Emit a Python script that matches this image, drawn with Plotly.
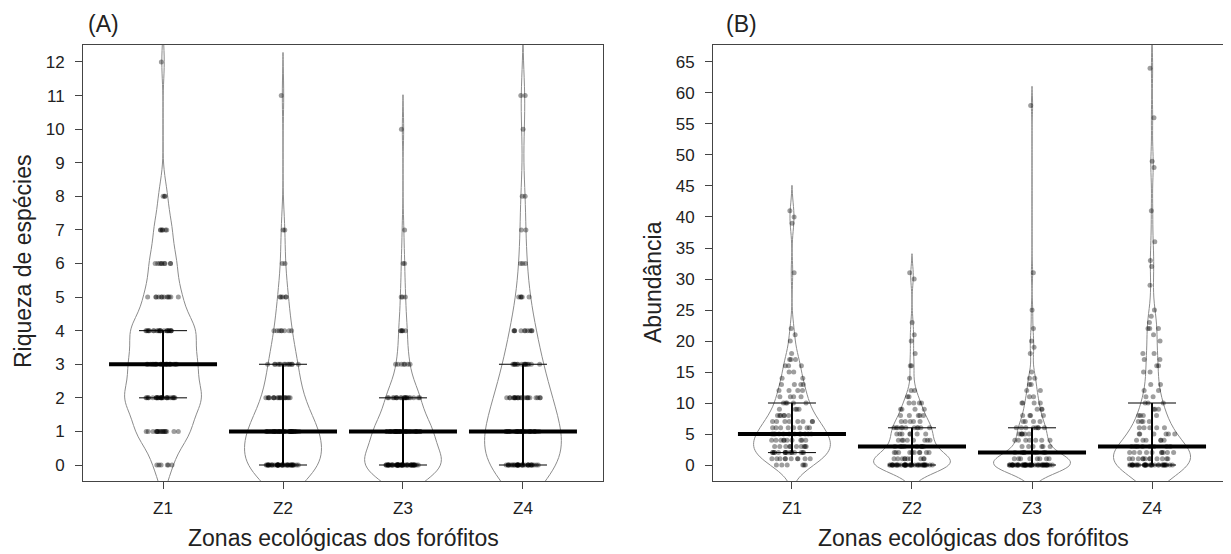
import numpy as np
import plotly.graph_objects as go

zones = ["Z1", "Z2", "Z3", "Z4"]

# Panel A: species richness (value -> number of phorophytes)
riq_values_z1 = [0, 1, 2, 3, 4, 5, 6, 7, 8, 12]
riq_counts_z1 = [6, 18, 26, 22, 22, 12, 9, 6, 3, 1]
riq_values_z2 = [0, 1, 2, 3, 4, 5, 6, 7, 11]
riq_counts_z2 = [40, 35, 18, 14, 8, 5, 2, 2, 1]
riq_values_z3 = [0, 1, 2, 3, 4, 5, 6, 7, 10]
riq_counts_z3 = [51, 35, 20, 7, 5, 3, 2, 1, 1]
riq_values_z4 = [0, 1, 2, 3, 4, 5, 6, 7, 8, 10, 11]
riq_counts_z4 = [33, 30, 22, 15, 10, 5, 3, 2, 2, 1, 2]

# Panel B: abundance
abu_values_z1 = [0, 1, 2, 3, 4, 5, 6, 7, 8, 9, 10, 11, 12, 13, 14, 15, 16, 17, 18, 20, 21, 22, 31, 39, 40, 41]
abu_counts_z1 = [6, 10, 16, 10, 10, 12, 8, 8, 6, 4, 5, 4, 4, 4, 2, 2, 3, 3, 1, 1, 1, 1, 1, 1, 1, 1]
abu_values_z2 = [0, 1, 2, 3, 4, 5, 6, 7, 8, 9, 10, 11, 12, 14, 16, 18, 20, 21, 23, 30, 31]
abu_counts_z2 = [40, 10, 10, 8, 8, 7, 11, 5, 5, 4, 4, 2, 2, 1, 2, 1, 1, 1, 1, 1, 1]
abu_values_z3 = [0, 1, 2, 3, 4, 5, 6, 7, 8, 9, 10, 11, 12, 13, 14, 15, 18, 19, 20, 22, 25, 31, 58]
abu_counts_z3 = [51, 8, 8, 6, 7, 6, 8, 4, 4, 3, 4, 2, 2, 2, 2, 1, 1, 1, 1, 1, 1, 1, 1]
abu_values_z4 = [0, 1, 2, 3, 4, 5, 6, 7, 8, 9, 10, 11, 12, 13, 15, 16, 17, 18, 20, 21, 22, 23, 24, 25, 29, 32, 33, 36, 41, 48, 49, 56, 64]
abu_counts_z4 = [33, 12, 10, 8, 6, 6, 5, 4, 4, 3, 3, 2, 2, 2, 2, 2, 2, 2, 1, 1, 3, 1, 1, 1, 1, 1, 1, 1, 1, 1, 1, 1, 1]

riq_ticks = list(range(0, 13))
abu_ticks = list(range(0, 70, 5))

# page is 1231x554; the browser body has an 8px margin, so the figure is 8px smaller
OFF = 8
W, H = 1231 - OFF, 554 - OFF
FONT = "Liberation Sans, Arial, sans-serif"


def px(x):  # screen x -> paper
    return (x - OFF) / W


def py(y):  # screen y -> paper
    return (H - (y - OFF)) / H


def nrd0(y):
    y = np.asarray(y, float)
    q1, q3 = np.percentile(y, [25, 75])
    s = min(np.std(y, ddof=1), (q3 - q1) / 1.34)
    return 0.9 * s * len(y) ** (-0.2)


fig = go.Figure()


def add_panel(vals_list, cnts_list, xa, ya, jitter, tag):
    for i, (vals, cnts) in enumerate(zip(vals_list, cnts_list)):
        y = np.repeat(np.array(vals, float), cnts)
        pos = i + 1
        fig.add_trace(go.Violin(
            x=np.full(len(y), pos), y=y, orientation="v",
            width=0.64, bandwidth=nrd0(y), spanmode="soft",
            points="all", pointpos=0, jitter=jitter,
            fillcolor="white", line=dict(color="#8c8c8c", width=1),
            marker=dict(color="rgba(0,0,0,0.38)", size=5, line=dict(width=0)),
            name=tag + zones[i], showlegend=False, hoverinfo="y",
            xaxis=xa, yaxis=ya,
        ))
        med = np.median(y)
        q1, q3 = np.percentile(y, [25, 75])
        fig.add_trace(go.Scatter(
            x=[pos - 0.2, pos + 0.2, None, pos - 0.2, pos + 0.2],
            y=[q1, q1, None, q3, q3], mode="lines",
            line=dict(color="black", width=1), showlegend=False,
            hoverinfo="skip", xaxis=xa, yaxis=ya))
        fig.add_trace(go.Scatter(
            x=[pos, pos], y=[q1, q3], mode="lines",
            line=dict(color="black", width=2), showlegend=False,
            hoverinfo="skip", xaxis=xa, yaxis=ya))
        fig.add_trace(go.Scatter(
            x=[pos - 0.45, pos + 0.45], y=[med, med], mode="lines",
            line=dict(color="black", width=4), showlegend=False,
            hoverinfo="skip", xaxis=xa, yaxis=ya))


add_panel([riq_values_z1, riq_values_z2, riq_values_z3, riq_values_z4],
          [riq_counts_z1, riq_counts_z2, riq_counts_z3, riq_counts_z4],
          "x", "y", 0.45, "A")
add_panel([abu_values_z1, abu_values_z2, abu_values_z3, abu_values_z4],
          [abu_counts_z1, abu_counts_z2, abu_counts_z3, abu_counts_z4],
          "x2", "y2", 0.6, "B")

ydom = [py(481), py(45)]
tickfont = dict(family=FONT, size=17, color="#222")
xcommon = dict(tickvals=[1, 2, 3, 4], ticktext=zones, ticks="outside", ticklen=7,
               tickcolor="#444", showline=True, linecolor="#444", linewidth=1,
               showgrid=False, zeroline=False, tickfont=tickfont,
               ticklabelstandoff=5, fixedrange=True)
ycommon = dict(ticks="outside", ticklen=7, tickcolor="#444", showline=True,
               linecolor="#444", linewidth=1, showgrid=False, zeroline=False,
               tickfont=tickfont, ticklabelstandoff=7, domain=ydom, fixedrange=True)

TF = dict(size=23, family=FONT, color="#222")
fig.update_layout(
    width=W, height=H,
    margin=dict(l=0, r=0, t=0, b=0),
    paper_bgcolor="white", plot_bgcolor="white",
    violinmode="overlay",
    font=dict(family=FONT, color="#222"),
    xaxis=dict(domain=[px(83), px(603)], range=[0.333, 4.667], mirror=True, anchor="y", **xcommon),
    yaxis=dict(range=[-0.476, 12.506], tickvals=riq_ticks, mirror=True, anchor="x", **ycommon),
    xaxis2=dict(domain=[px(713), 1.0], range=[0.342, 4.658], mirror=True, anchor="y2", **xcommon),
    yaxis2=dict(range=[-2.58, 67.74], tickvals=abu_ticks, mirror=False, anchor="x2", **ycommon),
    annotations=[
        dict(text="(A)", x=px(86), y=py(24), xref="paper", yref="paper",
             xanchor="left", yanchor="middle", showarrow=False, font=TF),
        dict(text="(B)", x=px(724), y=py(24), xref="paper", yref="paper",
             xanchor="left", yanchor="middle", showarrow=False, font=TF),
        dict(text="Riqueza de espécies", x=px(23), y=py(261), xref="paper", yref="paper",
             xanchor="center", yanchor="middle", textangle=-90, showarrow=False, font=TF),
        dict(text="Abundância", x=px(653), y=py(282), xref="paper", yref="paper",
             xanchor="center", yanchor="middle", textangle=-90, showarrow=False, font=TF),
        dict(text="Zonas ecológicas dos forófitos", x=px(343), y=py(538), xref="paper", yref="paper",
             xanchor="center", yanchor="middle", showarrow=False, font=TF),
        dict(text="Zonas ecológicas dos forófitos", x=px(973), y=py(538), xref="paper", yref="paper",
             xanchor="center", yanchor="middle", showarrow=False, font=TF),
    ],
)

fig.write_html("out.html")
